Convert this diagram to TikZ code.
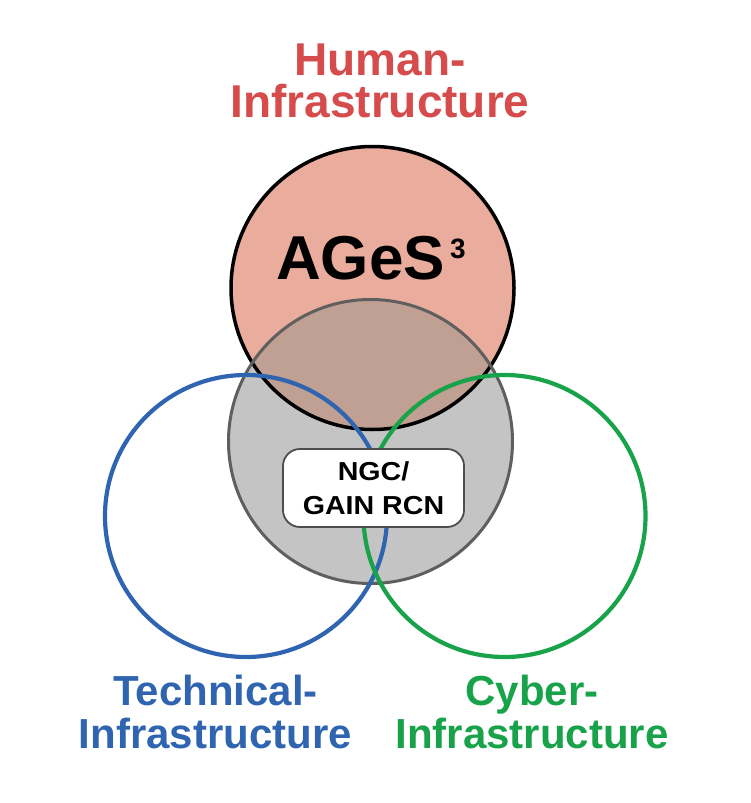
\documentclass[tikz,border=0pt]{standalone}
\usepackage{fontspec}
\setmainfont{Liberation Sans}
\newfontfamily\boxfont{Liberation Sans}[FakeStretch=1.1]
\definecolor{salmon}{HTML}{EAAC9C}
\definecolor{overlapc}{HTML}{C1A094}
\definecolor{grayfill}{HTML}{C4C4C4}
\definecolor{grayline}{HTML}{5F5F5F}
\definecolor{boxline}{HTML}{4D4D4D}
\definecolor{humanred}{HTML}{D64B4B}
\definecolor{techblue}{HTML}{2F65B0}
\definecolor{cybergreen}{HTML}{18A34A}
\tikzset{
  label46/.style={inner sep=0pt, align=center, font=\bfseries\fontsize{46}{42}\selectfont},
  label42/.style={inner sep=0pt, align=center, font=\bfseries\fontsize{42}{43}\selectfont},
  ringline/.style={line width=4.2pt},
  ngcbox/.style={draw=boxline, line width=1.8pt, fill=white, rounded corners=17pt,
    minimum width=181pt, minimum height=78pt, inner sep=0pt, align=center,
    font=\boxfont\bfseries\fontsize{26}{34}\selectfont}
}
\begin{document}
\begin{tikzpicture}[x=1pt,y=-1pt]
\useasboundingbox (0,0) rectangle (750,803);
\fill[white] (0,0) rectangle (750,803);
\coordinate (hc) at (372.5,288);
\coordinate (gc) at (370.5,441.5);
\coordinate (tc) at (246,516);
\coordinate (cc) at (504.5,516);
% fills
\fill[salmon] (hc) circle[radius=141.5pt];
\fill[grayfill] (gc) circle[radius=142pt];
\begin{scope}
  \clip (hc) circle[radius=141.5pt];
  \fill[overlapc] (gc) circle[radius=142pt];
\end{scope}
% borders
\draw[black, line width=3.5pt] (hc) circle[radius=141.5pt];
\draw[grayline, line width=3pt] (gc) circle[radius=142pt];
\draw[techblue, ringline] (tc) circle[radius=141pt];
\draw[cybergreen, ringline] (cc) circle[radius=141pt];
% texts
\node[label46, text=humanred, anchor=north] (human) at (380,44) {Human-\\Infrastructure};
\node[inner sep=0pt, anchor=base west, font=\bfseries\fontsize{62}{62}\selectfont] (ages) at (276,279)
  {AGeS\kern5pt\raisebox{21pt}{\fontsize{28}{28}\selectfont 3}};
\node[ngcbox] (ngc) at (373.5,488) {NGC/\\GAIN RCN};
\node[label42, text=techblue, anchor=north] (tech) at (215.5,675) {Technical-\\Infrastructure};
\node[label42, text=cybergreen, anchor=north] (cyber) at (532,674.5) {Cyber-\\Infrastructure};
\end{tikzpicture}
\end{document}
